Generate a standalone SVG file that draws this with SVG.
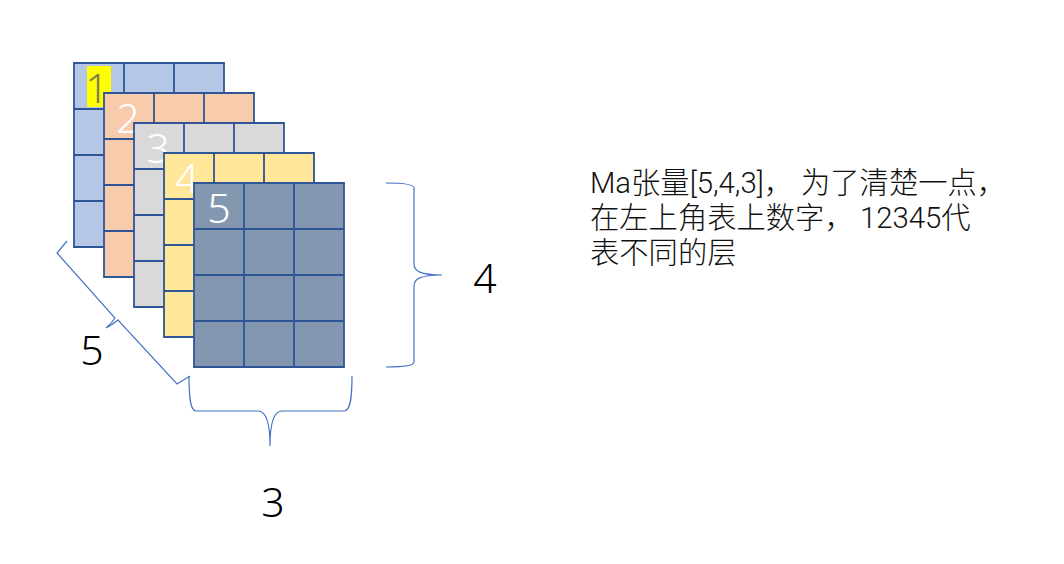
<svg xmlns="http://www.w3.org/2000/svg" xmlns:xlink="http://www.w3.org/1999/xlink" width="1064" height="564" viewBox="0 0 1064 564">
<style>
.grid{stroke:#2F5597;stroke-width:1.8}
.l1{fill:#B4C7E7}.l2{fill:#F8CBAD}.l3{fill:#D9D9D9}.l4{fill:#FFE699}.l5{fill:#8497B0}
.num{font-family:"Noto Sans","Liberation Sans",sans-serif;font-weight:300;font-size:41px;text-anchor:middle}
.w{fill:#fff}
.brace{fill:none;stroke:#4472C4;stroke-width:1.2}
.note{font-family:Roboto,"Noto Sans CJK SC",sans-serif;font-weight:300;font-size:29.3px;fill:#111}
</style>
<defs>
<path id="cells" d="M0 0H150V184H0ZM50 0V184M100 0V184M0 46H150M0 92H150M0 138H150"/>
</defs>
<rect width="1064" height="564" fill="#fff"/>
<g id="layer1"><use xlink:href="#cells" href="#cells" x="74" y="63" class="grid l1"/><rect x="87" y="66" width="24" height="41" fill="#FFFF00"/><text x="97" y="103" class="num" fill="#7F7F50">1</text></g>
<g id="layer2"><use xlink:href="#cells" href="#cells" x="104" y="93" class="grid l2"/><text x="128" y="133" class="num w">2</text></g>
<g id="layer3"><use xlink:href="#cells" href="#cells" x="134" y="123" class="grid l3"/><text x="158" y="163" class="num w">3</text></g>
<g id="layer4"><use xlink:href="#cells" href="#cells" x="164" y="153" class="grid l4"/><text x="187" y="193" class="num w">4</text></g>
<g id="layer5"><use xlink:href="#cells" href="#cells" x="194" y="183" class="grid l5"/><text x="219" y="223" class="num w">5</text></g>
<g id="connectors">
<path class="brace" d="M67 241L57 253L115 318Q112 323 106 328Q112 325 118 320L177 384L190 376"/>
<path class="brace" d="M189 376C189 395 190 411 196 411H258C265 411 270 420 270 446C270 420 275 411 282 411H344C351 411 352 395 352 376"/>
<path class="brace" d="M386 183C400 183 414 184 414 188V264C414 271 420 275 442 275C420 275 414 279 414 286V362C414 366 400 367 386 367"/>
</g>
<g id="label-5"><text x="92" y="365" class="num" fill="#000">5</text></g>
<g id="label-4"><text x="485" y="293" class="num" fill="#000">4</text></g>
<g id="label-3"><text x="273" y="517" class="num" fill="#000">3</text></g>
<g id="note">
<text x="590" y="193" class="note">Ma张量[5,4,3]，<tspan x="801">为了清楚一点，</tspan></text>
<text x="590" y="228" class="note">在左上角表上数字，<tspan x="860">12345代</tspan></text>
<text x="590" y="263" class="note">表不同的层</text>
</g>
</svg>
